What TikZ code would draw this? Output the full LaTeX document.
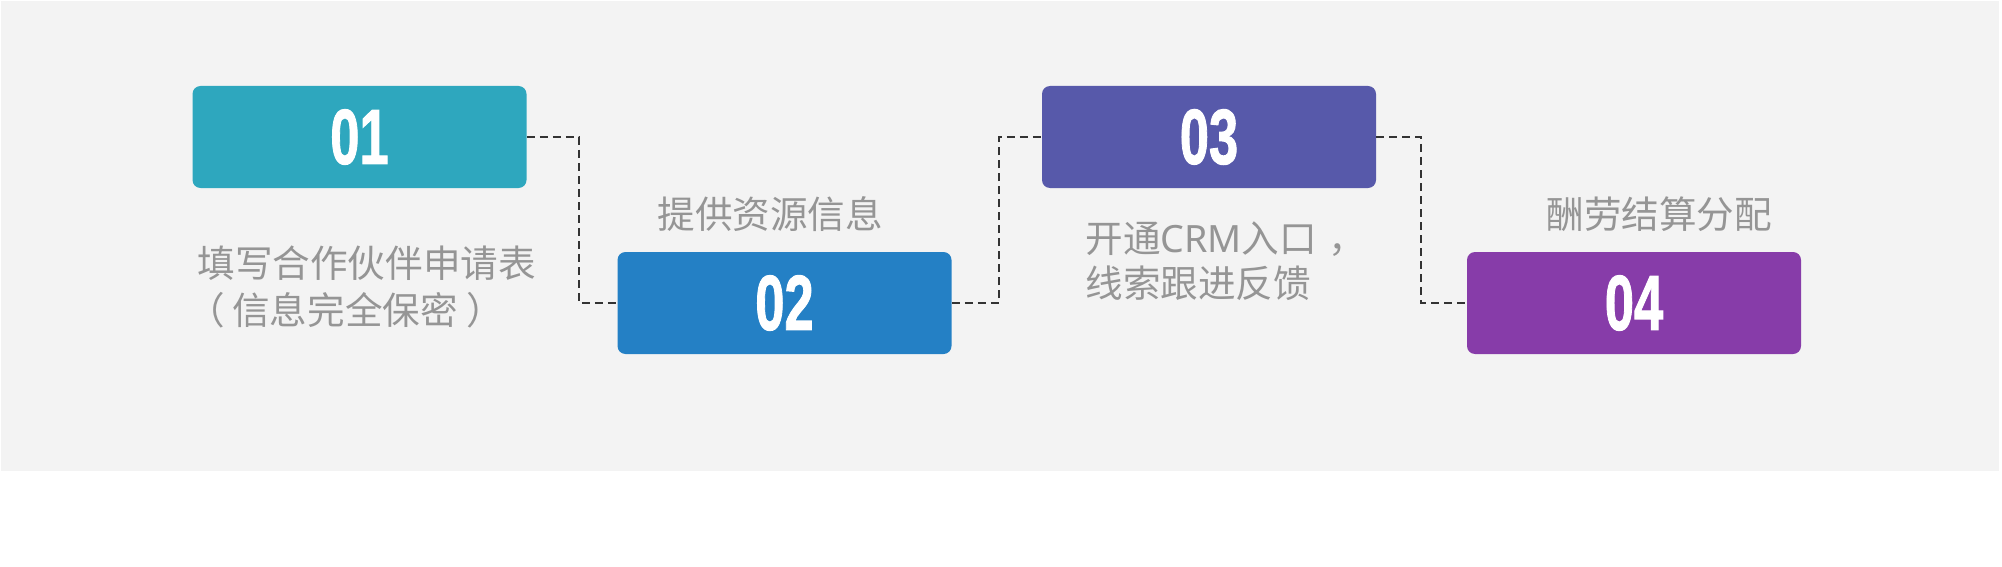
\documentclass[tikz,border=0pt]{standalone}
\usepackage{fontspec}
\newfontfamily\cjk{Noto Sans CJK SC}
\newfontfamily\latinsans{Noto Sans}
\newfontfamily\numfont[FakeBold=1.5]{Liberation Sans}
\definecolor{bggray}{HTML}{F3F3F3}
\definecolor{cone}{HTML}{2EA7BE}
\definecolor{ctwo}{HTML}{2480C5}
\definecolor{cthree}{HTML}{5759AA}
\definecolor{cfour}{HTML}{873CA9}
\definecolor{txtgray}{HTML}{959595}
\definecolor{dashcol}{HTML}{333333}
\newcommand\numtext[1]{\scalebox{0.7}[1.04]{\numfont\bfseries\fontsize{37.5pt}{37.5pt}\selectfont #1}}
\begin{document}
\begin{tikzpicture}[x=0.5pt,y=-0.5pt,
  stepbox/.style={rounded corners=4pt, minimum width=167pt, minimum height=51pt, inner sep=0pt, text=white},
  conn/.style={draw=dashcol, line width=1pt, dash pattern=on 4pt off 2.5pt},
  lbl/.style={anchor=base west, inner sep=0pt, text=txtgray, font=\cjk\fontsize{18.8pt}{23.5pt}\selectfont}]
\useasboundingbox (0,0) rectangle (2002,567);
\fill[white] (0,0) rectangle (2002,567);
\fill[bggray] (1,1) rectangle (1999,471);

\node[stepbox, fill=cone]   (b1) at (359.5,137) {\numtext{01}};
\node[stepbox, fill=ctwo]   (b2) at (784.5,303) {\numtext{02}};
\node[stepbox, fill=cthree] (b3) at (1209,137)  {\numtext{03}};
\node[stepbox, fill=cfour]  (b4) at (1634,303)  {\numtext{04}};

\draw[conn] (b1.east) -- ++(52,0) |- (b2.west);
\draw[conn] (b2.east) -- ++(47,0) |- (b3.west);
\draw[conn] (b3.east) -- ++(45,0) |- (b4.west);

\node[lbl] (t1a) at (197,277) {填写合作伙伴申请表};
\node[lbl] (t1b) at (197,324) {\hspace*{-0.27em}（\hspace{0.2em}信息完全保密\hspace{0.24em}）};
\node[lbl] (t2)  at (657,228) {提供资源信息};
\node[lbl] (t3a) at (1085,252) {开通{\latinsans CRM}入口\hspace{0.3em}，};
\node[lbl] (t3b) at (1085,297) {线索跟进反馈};
\node[lbl] (t4)  at (1546,228) {酬劳结算分配};
\end{tikzpicture}
\end{document}
